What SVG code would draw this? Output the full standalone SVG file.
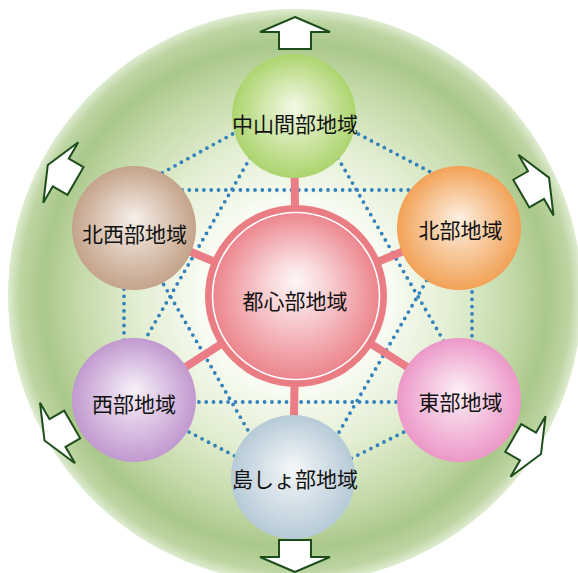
<svg xmlns="http://www.w3.org/2000/svg" width="578" height="573" viewBox="0 0 578 573">
<defs>
<radialGradient id="bg" cx="295" cy="296" r="287" gradientUnits="userSpaceOnUse">
<stop offset="0" stop-color="#ffffff"/>
<stop offset="0.3" stop-color="#fbfdf6"/>
<stop offset="0.55" stop-color="#e2eed2"/>
<stop offset="0.75" stop-color="#c4daa9"/>
<stop offset="0.88" stop-color="#aac88a"/>
<stop offset="0.96" stop-color="#bdd5a2"/>
<stop offset="1" stop-color="#dfecd1"/>
</radialGradient>
<radialGradient id="gTop" cx="0.5" cy="0.5" r="0.5" fx="0.5" fy="0.42"><stop offset="0" stop-color="#f4f9e6"/><stop offset="1" stop-color="#acd46e"/></radialGradient>
<radialGradient id="gNW" cx="0.5" cy="0.5" r="0.5" fx="0.5" fy="0.42"><stop offset="0" stop-color="#f6efe9"/><stop offset="1" stop-color="#c4a38a"/></radialGradient>
<radialGradient id="gNE" cx="0.5" cy="0.5" r="0.5" fx="0.5" fy="0.42"><stop offset="0" stop-color="#fdf0e2"/><stop offset="1" stop-color="#f2a257"/></radialGradient>
<radialGradient id="gSE" cx="0.5" cy="0.5" r="0.5" fx="0.5" fy="0.42"><stop offset="0" stop-color="#fdf0f7"/><stop offset="1" stop-color="#ec98c8"/></radialGradient>
<radialGradient id="gSW" cx="0.5" cy="0.5" r="0.5" fx="0.5" fy="0.42"><stop offset="0" stop-color="#f8f1fa"/><stop offset="1" stop-color="#c199cf"/></radialGradient>
<radialGradient id="gBot" cx="0.5" cy="0.5" r="0.5" fx="0.5" fy="0.42"><stop offset="0" stop-color="#f5f8fa"/><stop offset="1" stop-color="#b6cad7"/></radialGradient>
<radialGradient id="gCen" cx="0.5" cy="0.5" r="0.5" fx="0.5" fy="0.4"><stop offset="0" stop-color="#fef6f7"/><stop offset="0.35" stop-color="#f8d3d6"/><stop offset="1" stop-color="#ec858d"/></radialGradient>
<polygon id="arrow" points="0,0 35,15 16,15 16,32 -16,32 -16,15 -35,15"/>
</defs>
<style>
.arr{fill:#ffffff;stroke:#1d4d1a;stroke-width:2;stroke-linejoin:miter}
.dot{fill:none;stroke:#3382bb;stroke-width:3.8;stroke-linecap:round;stroke-dasharray:0 7.3}
.spoke{stroke:#ea7d85;stroke-width:8}
.lbl{font-family:"Noto Sans CJK JP","Noto Sans",sans-serif;font-size:21px;fill:#111111;text-anchor:middle}
</style>
<circle cx="295" cy="296" r="287" fill="url(#bg)"/>
<g id="arrows">
<use href="#arrow" class="arr" transform="translate(295,17)"/>
<use href="#arrow" class="arr" transform="translate(295,572) rotate(180)"/>
<use href="#arrow" class="arr" transform="translate(47.8,165) rotate(-60)"/>
<use href="#arrow" class="arr" transform="translate(549,177.6) rotate(60)"/>
<use href="#arrow" class="arr" transform="translate(541,454) rotate(120)"/>
<use href="#arrow" class="arr" transform="translate(44.5,440.5) rotate(-120)"/>
</g>
<g id="connectors">
<polygon class="dot" points="294,100 472,194 472,398 294,487 124,398 124,194"/>
<polygon class="dot" points="294,82 479,402 109,402"/>
<polygon class="dot" points="109,190 479,190 294,510"/>
<line class="spoke" x1="296" y1="296" x2="294" y2="116"/>
<line class="spoke" x1="296" y1="296" x2="134" y2="228"/>
<line class="spoke" x1="296" y1="296" x2="459" y2="228"/>
<line class="spoke" x1="296" y1="296" x2="459" y2="400"/>
<line class="spoke" x1="296" y1="296" x2="134" y2="400"/>
<line class="spoke" x1="296" y1="296" x2="293" y2="477"/>
</g>
<g id="center">
<circle cx="296" cy="296" r="91" fill="#ea7c84"/>
<circle cx="296" cy="296" r="83.5" fill="url(#gCen)" stroke="#ffffff" stroke-width="1.6"/>
<text class="lbl" x="295" y="309">都心部地域</text>
</g>
<g id="node-chusankan">
<circle cx="294" cy="116" r="62" fill="url(#gTop)"/>
<text class="lbl" x="295" y="132">中山間部地域</text>
</g>
<g id="node-hokusei">
<circle cx="134" cy="228" r="62" fill="url(#gNW)"/>
<text class="lbl" x="134.5" y="241.5">北西部地域</text>
</g>
<g id="node-hokubu">
<circle cx="459" cy="228" r="62" fill="url(#gNE)"/>
<text class="lbl" x="460.5" y="238">北部地域</text>
</g>
<g id="node-tobu">
<circle cx="459" cy="400" r="62" fill="url(#gSE)"/>
<text class="lbl" x="460.5" y="410">東部地域</text>
</g>
<g id="node-seibu">
<circle cx="134" cy="400" r="62" fill="url(#gSW)"/>
<text class="lbl" x="134" y="412">西部地域</text>
</g>
<g id="node-tosho">
<circle cx="293" cy="477" r="62" fill="url(#gBot)"/>
<text class="lbl" x="295" y="487">島しょ部地域</text>
</g>
</svg>
